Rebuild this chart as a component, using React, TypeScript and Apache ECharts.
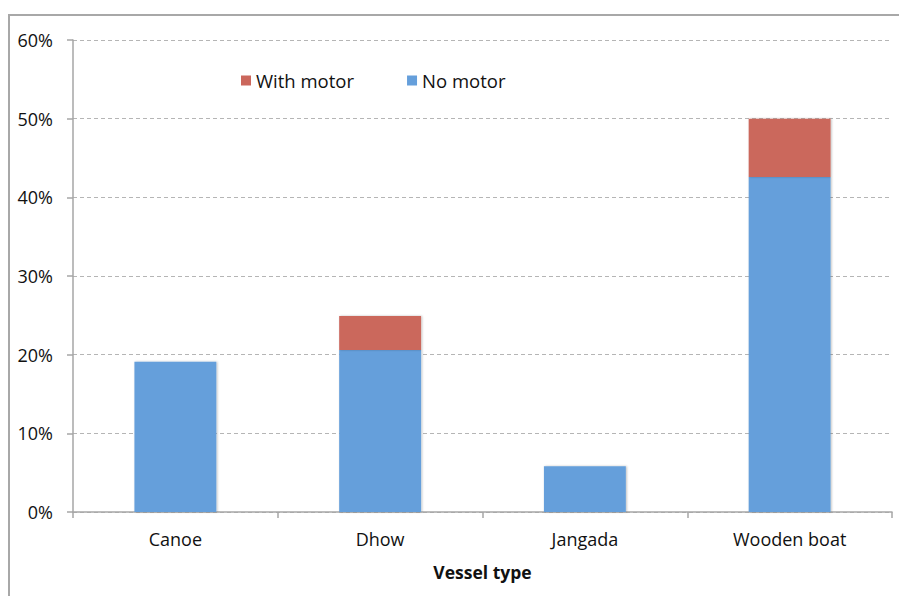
import React, { useEffect, useRef } from "react";
import * as echarts from "echarts";

const categories = ["Canoe", "Dhow", "Jangada", "Wooden boat"];
const noMotor = [19.1, 20.6, 5.8, 42.6];
const withMotor = [0, 4.3, 0, 7.4];
const seriesNames = ["With motor", "No motor"];
const axisTitle = "Vessel type";

export default function App() {
  const ref = useRef<HTMLDivElement>(null);
  useEffect(() => {
    const chart = echarts.init(ref.current!, null, { renderer: "svg" });
    const font = "'Open Sans', 'DejaVu Sans', sans-serif";
    chart.setOption({
      animation: false,
      backgroundColor: "#ffffff",
      textStyle: { fontFamily: font },
      graphic: [
        {
          type: "rect",
          shape: { x: 9, y: 15, width: 900, height: 600 },
          style: { fill: "none", stroke: "#a8a8a8", lineWidth: 2 },
          silent: true,
        },
      ],
      legend: {
        data: seriesNames,
        left: 236,
        top: 66,
        itemWidth: 10,
        itemHeight: 10,
        itemGap: 53,
        icon: "rect",
        textStyle: { fontSize: 18.5, color: "#111", fontFamily: font },
      },
      grid: { left: 73, right: 7, top: 40, bottom: 84, containLabel: false },
      xAxis: {
        type: "category",
        data: categories,
        name: axisTitle,
        nameLocation: "middle",
        nameGap: 51,
        nameTextStyle: { fontSize: 17.5, fontWeight: "bold", color: "#111", fontFamily: font },
        axisLine: { lineStyle: { color: "#a6a6a6", width: 1.5 } },
        axisTick: { show: true, length: 6, lineStyle: { color: "#a6a6a6", width: 1.5 } },
        axisLabel: { fontSize: 18, color: "#111", margin: 18, fontFamily: font },
      },
      yAxis: {
        type: "value",
        min: 0,
        max: 60,
        interval: 10,
        axisLine: { show: true, lineStyle: { color: "#a6a6a6", width: 1.5 } },
        axisTick: { show: true, length: 6, lineStyle: { color: "#a6a6a6", width: 1.5 } },
        axisLabel: { fontSize: 18, color: "#111", margin: 20, formatter: "{value}%", fontFamily: font },
        splitLine: { lineStyle: { color: "#b5b5b5", type: [4, 3], width: 1 } },
      },
      series: [
        {
          name: "No motor",
          type: "bar",
          stack: "total",
          data: noMotor,
          barWidth: "40%",
          itemStyle: {
            color: "#659fdb",
            shadowColor: "rgba(0,0,0,0.25)",
            shadowBlur: 2,
            shadowOffsetX: 1,
            shadowOffsetY: 0,
          },
        },
        {
          name: "With motor",
          type: "bar",
          stack: "total",
          data: withMotor,
          barWidth: "40%",
          itemStyle: {
            color: "#cb675c",
            shadowColor: "rgba(0,0,0,0.25)",
            shadowBlur: 2,
            shadowOffsetX: 1,
            shadowOffsetY: 0,
          },
        },
      ],
    });
    return () => chart.dispose();
  }, []);
  return <div ref={ref} style={{ width: 899, height: 596, position: "fixed", left: 0, top: 0 }} />;
}
